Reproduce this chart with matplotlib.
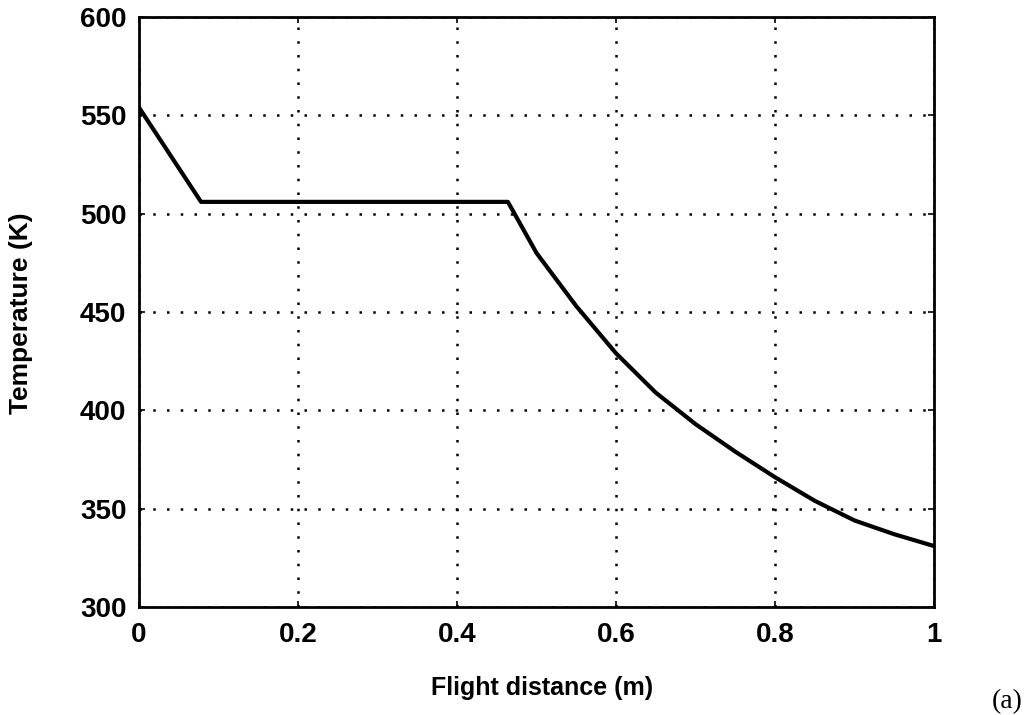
import matplotlib.pyplot as plt

# temperature along the flight path
distance = [0.0, 0.078, 0.464, 0.50, 0.55, 0.60, 0.65, 0.70, 0.75, 0.80, 0.85, 0.90, 0.95, 1.0]
temperature = [554, 506, 506, 480, 453, 429, 409, 393, 379, 366, 354, 344, 337, 331]

x_ticks = [0, 0.2, 0.4, 0.6, 0.8, 1]
x_tick_labels = ["0", "0.2", "0.4", "0.6", "0.8", "1"]
y_ticks = [300, 350, 400, 450, 500, 550, 600]

plt.rcParams["font.family"] = ["Liberation Sans", "DejaVu Sans"]
plt.rcParams["font.weight"] = "bold"

fig = plt.figure(figsize=(10.32, 7.15), dpi=100)
ax = fig.add_axes([139 / 1032, 1 - 607 / 715, 795 / 1032, 590 / 715])

ax.plot(distance, temperature, color="black", linewidth=3, solid_joinstyle="round")

ax.set_xlim(0, 1)
ax.set_ylim(300, 600)
ax.set_xticks(x_ticks)
ax.set_xticklabels(x_tick_labels)
ax.set_yticks(y_ticks)
ax.tick_params(direction="in", length=4, width=1.2, labelsize=20,
               top=True, right=True)
ax.tick_params(axis="x", pad=11)
ax.tick_params(axis="y", pad=9)
for lab in ax.get_xticklabels() + ax.get_yticklabels():
    lab.set_fontweight("bold")

ax.grid(True, color="black", linestyle=(0, (1, 4.5)), linewidth=1.8)
for side in ax.spines.values():
    side.set_linewidth(2)

fig.text(542 / 1032, 1 - 688 / 715, "Flight distance (m)", ha="center", va="center",
         fontsize=18, fontweight="bold")
fig.text(21 / 1032, 1 - 313 / 715, "Temperature (K)", ha="center", va="center",
         rotation=90, fontsize=19, fontweight="bold")
fig.text(1007 / 1032, 1 - 702 / 715, "(a)", ha="center", va="center",
         fontsize=20, family=["Liberation Serif", "DejaVu Serif"], fontweight="normal")

fig.savefig("out.png", dpi=100)
